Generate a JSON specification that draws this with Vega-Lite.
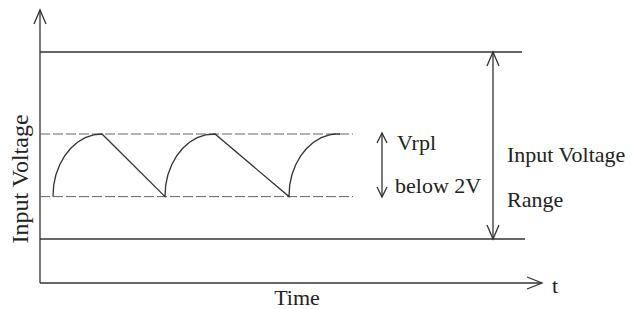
{
  "$schema": "https://vega.github.io/schema/vega-lite/v6.json",
  "width": 500,
  "height": 273,
  "autosize": "none",
  "padding": {"left": 40, "top": 10, "right": 94, "bottom": 26},
  "background": "white",
  "config": {"view": {"stroke": null}},
  "datasets": {
    "solid": [
      {"x": 0, "x2": 0, "y": 0, "y2": 13.65},
      {"x": 0, "x2": 100.4, "y": 0, "y2": 0},
      {"x": 0, "x2": 96.4, "y": 11.55, "y2": 11.55},
      {"x": 0, "x2": 97, "y": 2.2, "y2": 2.2},
      {"x": 90.6, "x2": 90.6, "y": 2.2, "y2": 11.55},
      {"x": 68.4, "x2": 68.4, "y": 4.3, "y2": 7.5}
    ],
    "dashed": [
      {"x": 0, "x2": 62.6, "y": 7.45, "y2": 7.45},
      {"x": 0, "x2": 62.6, "y": 4.32, "y2": 4.32}
    ],
    "wave": [
      {"t": 2.6, "v": 4.32}, {"t": 2.74, "v": 4.89}, {"t": 3.18, "v": 5.41}, {"t": 3.92, "v": 5.9},
      {"t": 4.9, "v": 6.345}, {"t": 6.1, "v": 6.725}, {"t": 7.5, "v": 7.035}, {"t": 9.04, "v": 7.265},
      {"t": 10.7, "v": 7.405}, {"t": 12.4, "v": 7.45},
      {"t": 25.0, "v": 4.32}, {"t": 25.14, "v": 4.89}, {"t": 25.58, "v": 5.41}, {"t": 26.32, "v": 5.9},
      {"t": 27.3, "v": 6.345}, {"t": 28.5, "v": 6.725}, {"t": 29.9, "v": 7.035}, {"t": 31.44, "v": 7.265},
      {"t": 33.1, "v": 7.405}, {"t": 35.0, "v": 7.45},
      {"t": 49.8, "v": 4.32}, {"t": 49.94, "v": 4.89}, {"t": 50.38, "v": 5.41}, {"t": 51.12, "v": 5.9},
      {"t": 52.1, "v": 6.345}, {"t": 53.3, "v": 6.725}, {"t": 54.7, "v": 7.035}, {"t": 56.24, "v": 7.265},
      {"t": 57.9, "v": 7.405}, {"t": 59.0, "v": 7.45}, {"t": 60.0, "v": 7.45}
    ],
    "upLarge": [{"x": 0, "y": 13.65}, {"x": 90.6, "y": 11.55}],
    "downLarge": [{"x": 90.6, "y": 2.2}],
    "upSmall": [{"x": 68.4, "y": 7.5}],
    "downSmall": [{"x": 68.4, "y": 4.3}],
    "right": [{"x": 100.4, "y": 0}],
    "labels": [
      {"x": 71.4, "y": 6.65, "text": "Vrpl"},
      {"x": 71.0, "y": 4.5, "text": "below 2V"},
      {"x": 93.4, "y": 6.05, "text": "Input Voltage"},
      {"x": 93.4, "y": 3.8, "text": "Range"}
    ],
    "axisLabels": [
      {"x": 51.4, "y": -1.1, "text": "Time"},
      {"x": 103, "y": -0.5, "text": "t"}
    ],
    "yTitle": [{"x": -2.4, "y": 5.2, "text": "Input Voltage"}]
  },
  "layer": [
    {
      "data": {"name": "solid"},
      "mark": {"type": "rule", "color": "#333333", "strokeWidth": 1.3, "clip": false},
      "encoding": {
        "x": {"field": "x", "type": "quantitative", "scale": {"domain": [0, 100], "nice": false, "zero": false}, "axis": null},
        "x2": {"field": "x2"},
        "y": {"field": "y", "type": "quantitative", "scale": {"domain": [0, 13.65], "nice": false, "zero": false}, "axis": null},
        "y2": {"field": "y2"}
      }
    },
    {
      "data": {"name": "dashed"},
      "mark": {"type": "rule", "color": "#666666", "strokeWidth": 1, "strokeDash": [10, 3]},
      "encoding": {
        "x": {"field": "x", "type": "quantitative"},
        "x2": {"field": "x2"},
        "y": {"field": "y", "type": "quantitative"},
        "y2": {"field": "y2"}
      }
    },
    {
      "data": {"name": "wave"},
      "mark": {"type": "line", "color": "#333333", "strokeWidth": 1.3},
      "encoding": {
        "x": {"field": "t", "type": "quantitative"},
        "y": {"field": "v", "type": "quantitative"},
        "order": {"field": "t", "type": "quantitative"}
      }
    },
    {
      "data": {"name": "upLarge"},
      "mark": {"type": "point", "shape": "M-6,14L0,0L6,14", "size": 4, "filled": false, "stroke": "#333333", "strokeWidth": 1.3, "opacity": 1, "clip": false},
      "encoding": {"x": {"field": "x", "type": "quantitative"}, "y": {"field": "y", "type": "quantitative"}}
    },
    {
      "data": {"name": "downLarge"},
      "mark": {"type": "point", "shape": "M-6,-14L0,0L6,-14", "size": 4, "filled": false, "stroke": "#333333", "strokeWidth": 1.3, "opacity": 1},
      "encoding": {"x": {"field": "x", "type": "quantitative"}, "y": {"field": "y", "type": "quantitative"}}
    },
    {
      "data": {"name": "upSmall"},
      "mark": {"type": "point", "shape": "M-5,10L0,0L5,10", "size": 4, "filled": false, "stroke": "#333333", "strokeWidth": 1.3, "opacity": 1},
      "encoding": {"x": {"field": "x", "type": "quantitative"}, "y": {"field": "y", "type": "quantitative"}}
    },
    {
      "data": {"name": "downSmall"},
      "mark": {"type": "point", "shape": "M-5,-10L0,0L5,-10", "size": 4, "filled": false, "stroke": "#333333", "strokeWidth": 1.3, "opacity": 1},
      "encoding": {"x": {"field": "x", "type": "quantitative"}, "y": {"field": "y", "type": "quantitative"}}
    },
    {
      "data": {"name": "right"},
      "mark": {"type": "point", "shape": "M-15,-6L0,0L-15,6", "size": 4, "filled": false, "stroke": "#333333", "strokeWidth": 1.3, "opacity": 1, "clip": false},
      "encoding": {"x": {"field": "x", "type": "quantitative"}, "y": {"field": "y", "type": "quantitative"}}
    },
    {
      "data": {"name": "labels"},
      "mark": {"type": "text", "align": "left", "baseline": "alphabetic", "font": "Liberation Serif", "fontSize": 22, "color": "#222222"},
      "encoding": {"x": {"field": "x", "type": "quantitative"}, "y": {"field": "y", "type": "quantitative"}, "text": {"field": "text"}}
    },
    {
      "data": {"name": "axisLabels"},
      "mark": {"type": "text", "align": "center", "baseline": "alphabetic", "font": "Liberation Serif", "fontSize": 22, "color": "#222222"},
      "encoding": {"x": {"field": "x", "type": "quantitative"}, "y": {"field": "y", "type": "quantitative"}, "text": {"field": "text"}}
    },
    {
      "data": {"name": "yTitle"},
      "mark": {"type": "text", "align": "center", "baseline": "alphabetic", "angle": 270, "font": "Liberation Serif", "fontSize": 24, "color": "#222222"},
      "encoding": {"x": {"field": "x", "type": "quantitative"}, "y": {"field": "y", "type": "quantitative"}, "text": {"field": "text"}}
    }
  ]
}
